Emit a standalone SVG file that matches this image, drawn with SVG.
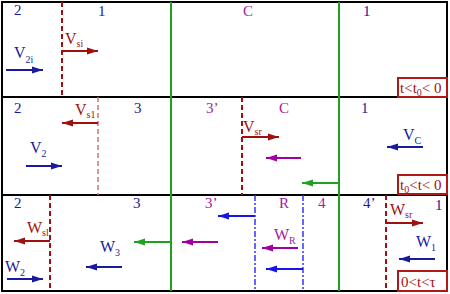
<svg xmlns="http://www.w3.org/2000/svg" width="450" height="294" viewBox="0 0 450 294">
<style>
text{font-family:"Liberation Serif","Times New Roman",serif}
.num{font-size:15px}
.lab{font-size:16px}
.sub{font-size:10px}
.blu{fill:#1a1a9c}
.pur{fill:#a020a0}
.red{fill:#a01010}
.frame{fill:none;stroke:#000;stroke-width:2}
.grn{stroke:#22a022;stroke-width:2;fill:none}
.rd{stroke:#a01010;stroke-width:2;stroke-dasharray:5 3;fill:none}
.rdl{stroke:#d07070;stroke-width:1.5;stroke-dasharray:5 3;fill:none}
.bdd{stroke:#3333ff;stroke-width:1.5;stroke-dasharray:6 2 2 2;fill:none}
.a{stroke-width:2;fill:none}
.ar{stroke:#a01010;marker-end:url(#mr)}
.ab{stroke:#1a1a9c;marker-end:url(#mb)}
.abb{stroke:#1515e6;marker-end:url(#mbb)}
.ap{stroke:#a000a0;marker-end:url(#mp)}
.ag{stroke:#22a022;marker-end:url(#mg)}
.box{fill:#fff;stroke:#b01818;stroke-width:2}
.bt{font-size:15px;fill:#a01010}
</style>
<defs>
<marker id="mr" markerUnits="userSpaceOnUse" markerWidth="12" markerHeight="8" refX="11" refY="4" orient="auto"><path d="M0,0.5 L11,4 L0,7.5 z" fill="#a01010"/></marker>
<marker id="mb" markerUnits="userSpaceOnUse" markerWidth="12" markerHeight="8" refX="11" refY="4" orient="auto"><path d="M0,0.5 L11,4 L0,7.5 z" fill="#1a1a9c"/></marker>
<marker id="mbb" markerUnits="userSpaceOnUse" markerWidth="12" markerHeight="8" refX="11" refY="4" orient="auto"><path d="M0,0.5 L11,4 L0,7.5 z" fill="#1515e6"/></marker>
<marker id="mp" markerUnits="userSpaceOnUse" markerWidth="12" markerHeight="8" refX="11" refY="4" orient="auto"><path d="M0,0.5 L11,4 L0,7.5 z" fill="#a000a0"/></marker>
<marker id="mg" markerUnits="userSpaceOnUse" markerWidth="12" markerHeight="8" refX="11" refY="4" orient="auto"><path d="M0,0.5 L11,4 L0,7.5 z" fill="#22a022"/></marker>
</defs>
<rect width="450" height="294" fill="#fff"/>
<g id="frame">
<rect class="frame" x="2" y="2" width="445" height="289"/>
<line class="frame" x1="2" y1="97" x2="447" y2="97"/>
<line class="frame" x1="2" y1="195" x2="447" y2="195"/>
</g>
<g id="fronts">
<line class="grn" x1="171" y1="2" x2="171" y2="291"/>
<line class="grn" x1="339" y1="2" x2="339" y2="291"/>
<line class="rd" x1="62" y1="2" x2="62" y2="97"/>
<line class="rdl" x1="98" y1="97" x2="98" y2="195"/>
<line class="rd" x1="242" y1="97" x2="242" y2="195"/>
<line class="rd" x1="50" y1="195" x2="50" y2="291"/>
<line class="rd" x1="386" y1="195" x2="386" y2="291"/>
<line class="bdd" x1="255" y1="195" x2="255" y2="291"/>
<line class="bdd" x1="303" y1="195" x2="303" y2="291"/>
</g>
<g id="connectors">
<line class="a ar" x1="62" y1="51" x2="98" y2="51"/>
<line class="a ab" x1="6" y1="70" x2="43" y2="70"/>
<line class="a ar" x1="98" y1="123" x2="62" y2="123"/>
<line class="a ab" x1="26" y1="166" x2="62" y2="166"/>
<line class="a ar" x1="242" y1="137" x2="279" y2="137"/>
<line class="a ap" x1="301" y1="158" x2="266" y2="158"/>
<line class="a ag" x1="339" y1="183" x2="302" y2="183"/>
<line class="a ab" x1="423" y1="147" x2="387" y2="147"/>
<line class="a ar" x1="50" y1="241" x2="14" y2="241"/>
<line class="a ab" x1="7" y1="279" x2="43" y2="279"/>
<line class="a ab" x1="122" y1="267" x2="86" y2="267"/>
<line class="a ag" x1="171" y1="242" x2="134" y2="242"/>
<line class="a ap" x1="218" y1="242" x2="182" y2="242"/>
<line class="a abb" x1="255" y1="216" x2="218" y2="216"/>
<line class="a ap" x1="298" y1="248" x2="262" y2="248"/>
<line class="a abb" x1="303" y1="269" x2="266" y2="269"/>
<line class="a ar" x1="386" y1="223" x2="423" y2="223"/>
<line class="a ab" x1="435" y1="259" x2="399" y2="259"/>
</g>
<g id="row1">
<text class="num blu" x="14" y="15">2</text>
<text class="num blu" x="98" y="16">1</text>
<text class="num pur" x="243" y="16">C</text>
<text class="num blu" x="363" y="16">1</text>
<text class="lab red" x="65" y="44">V<tspan class="sub" dy="3">si</tspan></text>
<text class="lab blu" x="14" y="58">V<tspan class="sub" dy="5">2i</tspan></text>
<g id="box1"><rect class="box" x="398" y="78" width="49" height="19"/><text class="bt" x="400" y="93">t&lt;t<tspan class="sub" dy="3">0</tspan><tspan dy="-3">&lt; 0</tspan></text></g>
</g>
<g id="row2">
<text class="num blu" x="14" y="113">2</text>
<text class="num blu" x="134" y="113">3</text>
<text class="num pur" x="206" y="113">3’</text>
<text class="num pur" x="279" y="113">C</text>
<text class="num blu" x="361" y="113">1</text>
<text class="lab red" x="75" y="115">V<tspan class="sub" dy="3">s1</tspan></text>
<text class="lab blu" x="30" y="153">V<tspan class="sub" dy="4">2</tspan></text>
<text class="lab red" x="243" y="132">V<tspan class="sub" dy="3">sr</tspan></text>
<text class="lab blu" x="403" y="140">V<tspan class="sub" dy="4">C</tspan></text>
<g id="box2"><rect class="box" x="398" y="175" width="49" height="19"/><text class="bt" x="400" y="190">t<tspan class="sub" dy="3">0</tspan><tspan dy="-3">&lt;t&lt; 0</tspan></text></g>
</g>
<g id="row3">
<text class="num blu" x="14" y="208">2</text>
<text class="num blu" x="133" y="208">3</text>
<text class="num pur" x="205" y="208">3’</text>
<text class="num pur" x="279" y="208">R</text>
<text class="num pur" x="318" y="208">4</text>
<text class="num blu" x="363" y="208">4’</text>
<text class="num blu" x="435" y="210">1</text>
<text class="lab red" x="27" y="233">W<tspan class="sub" dy="3">sl</tspan></text>
<text class="lab blu" x="5" y="272">W<tspan class="sub" dy="4">2</tspan></text>
<text class="lab blu" x="100" y="252">W<tspan class="sub" dy="4">3</tspan></text>
<text class="lab pur" x="274" y="240">W<tspan class="sub" dy="4">R</tspan></text>
<text class="lab red" x="390" y="215">W<tspan class="sub" dy="3">sr</tspan></text>
<text class="lab blu" x="416" y="247">W<tspan class="sub" dy="4">1</tspan></text>
<g id="box3"><rect class="box" x="398" y="271" width="49" height="20"/><text class="bt" x="401" y="287">0&lt;t&lt;τ</text></g>
</g>
</svg>
